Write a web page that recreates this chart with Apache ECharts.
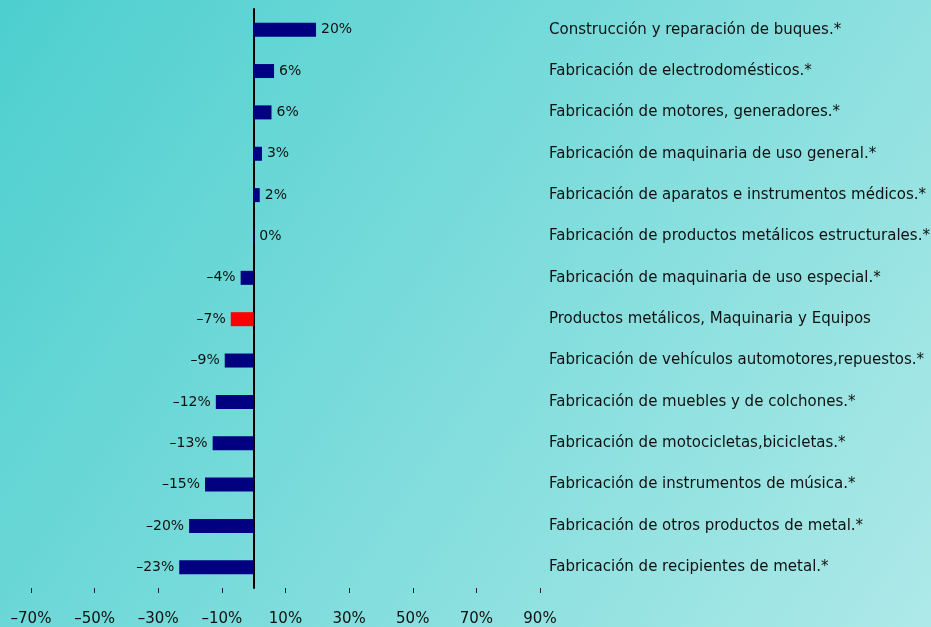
<!DOCTYPE html>
<html>
<head>
<meta charset="utf-8">
<script src="https://cdn.jsdelivr.net/npm/echarts@6/dist/echarts.min.js"></script>
<style>
html, body { margin: 0; padding: 0; }
#chart { width: 931px; height: 627px; }
</style>
</head>
<body>
<div id="chart"></div>
<script>
// categories, bottom to top
var categories = [
    'Fabricación de recipientes de metal.*',
    'Fabricación de otros productos de metal.*',
    'Fabricación de instrumentos de música.*',
    'Fabricación de motocicletas,bicicletas.*',
    'Fabricación de muebles y de colchones.*',
    'Fabricación de vehículos automotores,repuestos.*',
    'Productos metálicos, Maquinaria y Equipos',
    'Fabricación de maquinaria de uso especial.*',
    'Fabricación de productos metálicos estructurales.*',
    'Fabricación de aparatos e instrumentos médicos.*',
    'Fabricación de maquinaria de uso general.*',
    'Fabricación de motores, generadores.*',
    'Fabricación de electrodomésticos.*',
    'Construcción y reparación de buques.*'
];
var values = [-23.4, -20.3, -15.3, -12.9, -11.9, -9.1, -7.2, -4.1, 0.2, 1.9, 2.6, 5.6, 6.4, 19.6];
var highlight = 'Productos metálicos, Maquinaria y Equipos';
var xTicks = [-70, -50, -30, -10, 10, 30, 50, 70, 90];

var font = 'DejaVu Sans';

function pct(v) {
    var r = Math.round(v);
    return (r < 0 ? '\u2013' + (-r) : r) + '%';
}

var chart = echarts.init(document.getElementById('chart'));
chart.setOption({
    backgroundColor: new echarts.graphic.LinearGradient(0, 0, 1, 1, [
        { offset: 0, color: '#4dcfcf' },
        { offset: 1, color: '#ade9e8' }
    ]),
    animation: false,
    grid: { left: 31, right: 391, top: 9, bottom: 39, outerBoundsMode: 'none' },
    xAxis: {
        type: 'value',
        min: -70,
        max: 90,
        splitLine: { show: false },
        axisLine: { lineStyle: { color: '#3a4a4a', width: 2 } },
        axisTick: { show: true, length: 5, customValues: xTicks, lineStyle: { color: '#222' } },
        axisLabel: {
            customValues: xTicks,
            formatter: function (v) { return pct(v); },
            color: '#111',
            fontFamily: font,
            fontSize: 15,
            margin: 24
        }
    },
    yAxis: [
        {
            type: 'category',
            data: categories,
            axisLine: { onZero: true, lineStyle: { color: '#000', width: 2 } },
            axisTick: { inside: true, length: 6, lineStyle: { color: '#111', width: 1.5 } },
            axisLabel: { show: false }
        },
        {
            // small marks at the middle of each row
            type: 'category',
            data: categories,
            position: 'left',
            offset: -222.7,
            axisLine: { show: false },
            axisTick: { inside: true, alignWithLabel: true, length: 3, lineStyle: { color: '#222', width: 1.5 } },
            axisLabel: { show: false }
        },
        {
            type: 'category',
            data: categories,
            position: 'right',
            axisLine: { show: false },
            axisTick: { show: false },
            axisLabel: {
                align: 'left',
                margin: 9,
                color: '#111',
                fontFamily: font,
                fontSize: 15
            }
        }
    ],
    series: [{
        type: 'bar',
        yAxisIndex: 0,
        barWidth: 14,
        data: values.map(function (v, i) {
            return {
                value: v,
                itemStyle: { color: categories[i] === highlight ? '#ff0000' : '#000080' },
                label: { position: v < 0 ? 'left' : 'right' }
            };
        }),
        label: {
            show: true,
            distance: 5,
            color: '#111',
            fontFamily: font,
            fontSize: 14,
            formatter: function (p) { return pct(p.value); }
        }
    }]
});
</script>
</body>
</html>
